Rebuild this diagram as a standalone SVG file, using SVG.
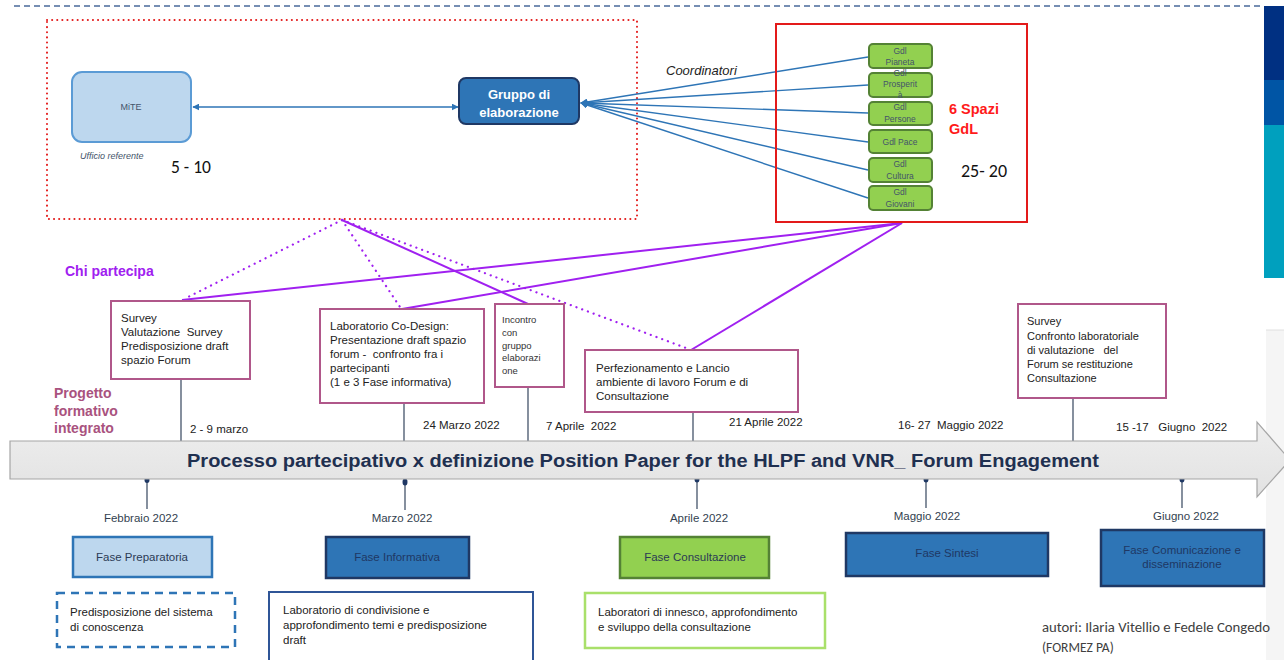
<svg xmlns="http://www.w3.org/2000/svg" width="1284" height="660" viewBox="0 0 1284 660">
<defs>
<style>
text{font-family:"Liberation Sans",Arial,sans-serif;white-space:pre;}
.t11{font-size:11.5px;fill:#222;}
.gdl{font-size:8.5px;fill:#44546a;text-anchor:middle;}
.date{font-size:11.5px;fill:#222;}
.month{font-size:11.5px;fill:#333f50;text-anchor:middle;}
.box{fill:#fff;stroke:#b0578a;stroke-width:2;}
.gbox{fill:#92d050;stroke:#548235;stroke-width:2;}
.tick{stroke:#44546a;stroke-width:1.3;fill:none;}
.pl{stroke:#a020f0;stroke-width:2;fill:none;}
.pd{stroke:#a020f0;stroke-width:2.2;fill:none;stroke-dasharray:0.1 6;stroke-linecap:round;}
.bl{stroke:#2e75b6;stroke-width:1.4;fill:none;}
.phase{font-size:11.5px;fill:#2b3a55;text-anchor:middle;}
.phased{font-size:11.5px;fill:#1f3864;text-anchor:middle;}
.big{font-family:"Calibri","Open Sans","Liberation Sans",sans-serif;}
</style>
<marker id="ah" viewBox="0 0 10 10" refX="9" refY="5" markerWidth="7" markerHeight="7" orient="auto-start-reverse" markerUnits="userSpaceOnUse">
<path d="M0,0 L10,5 L0,10 z" fill="#2e75b6"/>
</marker>
<linearGradient id="ag" x1="0" y1="0" x2="0" y2="1">
<stop offset="0" stop-color="#eeeeee"/>
<stop offset="1" stop-color="#e2e2e2"/>
</linearGradient>
</defs>
<rect x="0" y="0" width="1284" height="660" fill="#ffffff"/>
<line x1="14" y1="6" x2="1262" y2="6" stroke="#4a6a9a" stroke-width="1.5" stroke-dasharray="6 4"/>
<g id="strip">
<rect x="1264" y="6" width="20" height="74" fill="#003082"/>
<rect x="1264" y="80" width="20" height="45" fill="#0055a5"/>
<rect x="1264" y="125" width="20" height="153" fill="#00a0be"/>
<rect x="1266" y="330" width="18" height="330" fill="#f5f5f5"/>
<line x1="1266" y1="330" x2="1284" y2="330" stroke="#e0e0e0" stroke-width="1"/>
</g>

<g id="gruppo-container">
<rect x="47" y="20" width="590" height="199" fill="none" stroke="#e31a1a" stroke-width="2" stroke-dasharray="0.1 5" stroke-linecap="round"/>
</g>

<g id="connectors">
<line x1="193" y1="107" x2="458" y2="107" class="bl" marker-start="url(#ah)" marker-end="url(#ah)"/>
<line x1="868" y1="57" x2="581" y2="103" class="bl" marker-end="url(#ah)"/>
<line x1="868" y1="85" x2="581" y2="103" class="bl" marker-end="url(#ah)"/>
<line x1="868" y1="113" x2="581" y2="103" class="bl" marker-end="url(#ah)"/>
<line x1="868" y1="142" x2="581" y2="103" class="bl" marker-end="url(#ah)"/>
<line x1="868" y1="170" x2="581" y2="103" class="bl" marker-end="url(#ah)"/>
<line x1="868" y1="198" x2="581" y2="103" class="bl" marker-end="url(#ah)"/>
<line x1="342" y1="220" x2="184" y2="299" class="pd"/>
<line x1="342" y1="220" x2="400" y2="307" class="pd"/>
<line x1="342" y1="220" x2="686" y2="348" class="pd"/>
<line x1="342" y1="220" x2="528" y2="304" class="pl"/>
<line x1="902" y1="223" x2="182" y2="300" class="pl"/>
<line x1="902" y1="223" x2="402" y2="309" class="pl"/>
<line x1="902" y1="223" x2="691" y2="350" class="pl"/>
<line x1="181" y1="380" x2="181" y2="441" class="tick"/>
<line x1="404" y1="400" x2="404" y2="441" class="tick"/>
<line x1="528" y1="387" x2="528" y2="441" class="tick"/>
<line x1="693" y1="397" x2="693" y2="441" class="tick"/>
<line x1="1073" y1="396" x2="1073" y2="441" class="tick"/>
<line x1="147" y1="480" x2="147" y2="509" class="tick"/>
<line x1="405" y1="480" x2="405" y2="510" class="tick"/>
<line x1="697" y1="478" x2="697" y2="509" class="tick"/>
<line x1="926" y1="478" x2="926" y2="508" class="tick"/>
<line x1="1182" y1="478" x2="1182" y2="508" class="tick"/>
<ellipse cx="147" cy="480" rx="2.5" ry="3" fill="#1f3864"/>
<ellipse cx="405" cy="482" rx="2.5" ry="3.5" fill="#1f3864"/>
<ellipse cx="697" cy="479" rx="2.5" ry="3.5" fill="#1f3864"/>
<ellipse cx="926" cy="479" rx="2.5" ry="3.5" fill="#1f3864"/>
<ellipse cx="1182" cy="479" rx="2.5" ry="3.5" fill="#1f3864"/>
</g>

<g id="mite">
<rect x="72" y="72" width="119" height="70" rx="10" fill="#bdd7ee" stroke="#5b9bd5" stroke-width="2"/>
<text x="131" y="110" font-size="9" fill="#44546a" text-anchor="middle">MiTE</text>
<text x="80" y="159" font-size="9" font-style="italic" fill="#44546a">Ufficio referente</text>
<text x="171" y="173" font-size="17.5" fill="#111" class="big">5 - 10</text>
</g>

<g id="gruppo">
<rect x="459" y="78" width="120" height="46" rx="7" fill="#2e75b6" stroke="#1f3864" stroke-width="2"/>
<text x="519" y="99" font-size="13" font-weight="bold" fill="#fff" text-anchor="middle">Gruppo di</text>
<text x="519" y="117" font-size="13" font-weight="bold" fill="#fff" text-anchor="middle">elaborazione</text>
</g>

<text x="666" y="75" font-size="13" font-style="italic" fill="#222">Coordinatori</text>

<g id="gdl-spazi">
<rect x="776" y="24" width="251" height="198" fill="none" stroke="#e31a1a" stroke-width="2"/>
<text x="949" y="114" font-size="14.5" font-weight="bold" fill="#ff1a1a">6 Spazi</text>
<text x="949" y="134" font-size="14.5" font-weight="bold" fill="#ff1a1a">GdL</text>
<text x="961" y="177" font-size="18" fill="#111" class="big">25- 20</text>
</g>
<g id="gdl-pianeta"><rect x="869" y="44" width="63" height="24" rx="4" class="gbox"/><text x="900" y="54" class="gdl">Gdl</text><text x="900" y="65" class="gdl">Pianeta</text></g>
<g id="gdl-prosperita"><rect x="869" y="73" width="63" height="24" rx="4" class="gbox"/><text x="900" y="76" class="gdl">Gdl</text><text x="900" y="87" class="gdl">Prosperit</text><text x="900" y="98" class="gdl">à</text></g>
<g id="gdl-persone"><rect x="869" y="102" width="63" height="23" rx="4" class="gbox"/><text x="900" y="110" class="gdl">Gdl</text><text x="900" y="122" class="gdl">Persone</text></g>
<g id="gdl-pace"><rect x="869" y="130" width="63" height="23" rx="4" class="gbox"/><text x="900" y="145" class="gdl">Gdl Pace</text></g>
<g id="gdl-cultura"><rect x="869" y="158" width="63" height="24" rx="4" class="gbox"/><text x="900" y="167" class="gdl">Gdl</text><text x="900" y="179" class="gdl">Cultura</text></g>
<g id="gdl-giovani"><rect x="869" y="186" width="63" height="24" rx="4" class="gbox"/><text x="900" y="195" class="gdl">Gdl</text><text x="900" y="207" class="gdl">Giovani</text></g>

<text x="65" y="276" font-size="14" font-weight="bold" fill="#a020f0">Chi partecipa</text>
<g id="progetto">
<text x="54" y="398" font-size="14" font-weight="bold" fill="#a9527e">Progetto</text>
<text x="54" y="416" font-size="14" font-weight="bold" fill="#a9527e">formativo</text>
<text x="54" y="433" font-size="14" font-weight="bold" fill="#a9527e">integrato</text>
</g>

<g id="survey">
<rect x="111" y="301" width="139" height="78" class="box"/>
<text x="121" y="322" class="t11">Survey</text>
<text x="121" y="336" class="t11">Valutazione  Survey</text>
<text x="121" y="350" class="t11">Predisposizione draft</text>
<text x="121" y="364" class="t11">spazio Forum</text>
</g>
<g id="laboratorio-codesign">
<rect x="320" y="309" width="164" height="94" class="box"/>
<text x="330" y="330" class="t11">Laboratorio Co-Design:</text>
<text x="330" y="344" class="t11">Presentazione draft spazio</text>
<text x="330" y="358" class="t11">forum -  confronto fra i</text>
<text x="330" y="372" class="t11">partecipanti</text>
<text x="330" y="386" class="t11">(1 e 3 Fase informativa)</text>
</g>
<g id="incontro">
<rect x="495" y="304" width="69" height="83" class="box"/>
<text x="502" y="323" font-size="9.5" fill="#333">Incontro</text>
<text x="502" y="336" font-size="9.5" fill="#333">con</text>
<text x="502" y="349" font-size="9.5" fill="#333">gruppo</text>
<text x="502" y="361" font-size="9.5" fill="#333">elaborazi</text>
<text x="502" y="374" font-size="9.5" fill="#333">one</text>
</g>
<g id="perfezionamento">
<rect x="585" y="350" width="213" height="62" class="box"/>
<text x="596" y="372" class="t11">Perfezionamento e Lancio</text>
<text x="596" y="386" class="t11">ambiente di lavoro Forum e di</text>
<text x="596" y="400" class="t11">Consultazione</text>
</g>
<g id="survey-finale">
<rect x="1018" y="304" width="148" height="94" class="box"/>
<text x="1027" y="325" font-size="11" fill="#222">Survey</text>
<text x="1027" y="340" font-size="11" fill="#222">Confronto laboratoriale</text>
<text x="1027" y="354" font-size="11" fill="#222">di valutazione   del</text>
<text x="1027" y="368" font-size="11" fill="#222">Forum se restituzione</text>
<text x="1027" y="382" font-size="11" fill="#222">Consultazione</text>
</g>

<g id="dates">
<text x="190" y="433" class="date">2 - 9 marzo</text>
<text x="423" y="429" class="date">24 Marzo 2022</text>
<text x="546" y="430" class="date">7 Aprile  2022</text>
<text x="729" y="426" class="date">21 Aprile 2022</text>
<text x="898" y="429" class="date">16- 27  Maggio 2022</text>
<text x="1116" y="431" class="date">15 -17   Giugno  2022</text>
</g>

<g id="timeline-arrow">
<path d="M10,441 L1257,441 L1257,422 L1290,460 L1257,497 L1257,479 L10,479 Z" fill="url(#ag)" stroke="#a6a6a6" stroke-width="1.2"/>
<text x="187" y="467" font-size="18" font-weight="bold" fill="#1f3050" textLength="912" lengthAdjust="spacingAndGlyphs">Processo partecipativo x definizione Position Paper for the HLPF and VNR_ Forum Engagement</text>
</g>

<g id="months">
<text x="141" y="522" class="month">Febbraio 2022</text>
<text x="402" y="522" class="month">Marzo 2022</text>
<text x="699" y="522" class="month">Aprile 2022</text>
<text x="927" y="520" class="month">Maggio 2022</text>
<text x="1186" y="520" class="month">Giugno 2022</text>
</g>

<g id="fase-preparatoria">
<rect x="73" y="537" width="139" height="40" fill="#bdd7ee" stroke="#2e75b6" stroke-width="2.5"/>
<text x="142" y="561" class="phase">Fase Preparatoria</text>
</g>
<g id="fase-informativa">
<rect x="326" y="537" width="143" height="41" fill="#2e75b6" stroke="#1f3864" stroke-width="2.5"/>
<text x="397" y="561" class="phased">Fase Informativa</text>
</g>
<g id="fase-consultazione">
<rect x="620" y="537" width="149" height="41" fill="#92d050" stroke="#548235" stroke-width="2.5"/>
<text x="695" y="561" class="phase">Fase Consultazione</text>
</g>
<g id="fase-sintesi">
<rect x="846" y="533" width="202" height="43" fill="#2e75b6" stroke="#1f3864" stroke-width="2.5"/>
<text x="947" y="557" class="phased">Fase Sintesi</text>
</g>
<g id="fase-comunicazione">
<rect x="1101" y="530" width="163" height="56" fill="#2e75b6" stroke="#1f3864" stroke-width="2.5"/>
<text x="1182" y="554" class="phased">Fase Comunicazione e</text>
<text x="1182" y="568" class="phased">disseminazione</text>
</g>

<g id="desc-preparatoria">
<rect x="57" y="593" width="178" height="54" fill="#fff" stroke="#2e75b6" stroke-width="2.5" stroke-dasharray="8 6"/>
<text x="70" y="616" class="t11">Predisposizione del sistema</text>
<text x="70" y="631" class="t11">di conoscenza</text>
</g>
<g id="desc-informativa">
<rect x="269" y="592" width="264" height="74" fill="#fff" stroke="#2f5597" stroke-width="2"/>
<text x="283" y="614" class="t11">Laboratorio di condivisione e</text>
<text x="283" y="629" class="t11">approfondimento temi e predisposizione</text>
<text x="283" y="644" class="t11">draft</text>
</g>
<g id="desc-consultazione">
<rect x="585" y="593" width="240" height="55" fill="#fff" stroke="#a9e06a" stroke-width="2.5"/>
<text x="598" y="616" class="t11">Laboratori di innesco, approfondimento</text>
<text x="598" y="631" class="t11">e sviluppo della consultazione</text>
</g>

<g id="autori">
<text x="1042" y="632" font-size="13.5" fill="#404040" class="big" textLength="228" lengthAdjust="spacingAndGlyphs">autori: Ilaria Vitellio e Fedele Congedo</text>
<text x="1042" y="652" font-size="13.5" fill="#404040" class="big">(FORMEZ PA)</text>
</g>
</svg>
